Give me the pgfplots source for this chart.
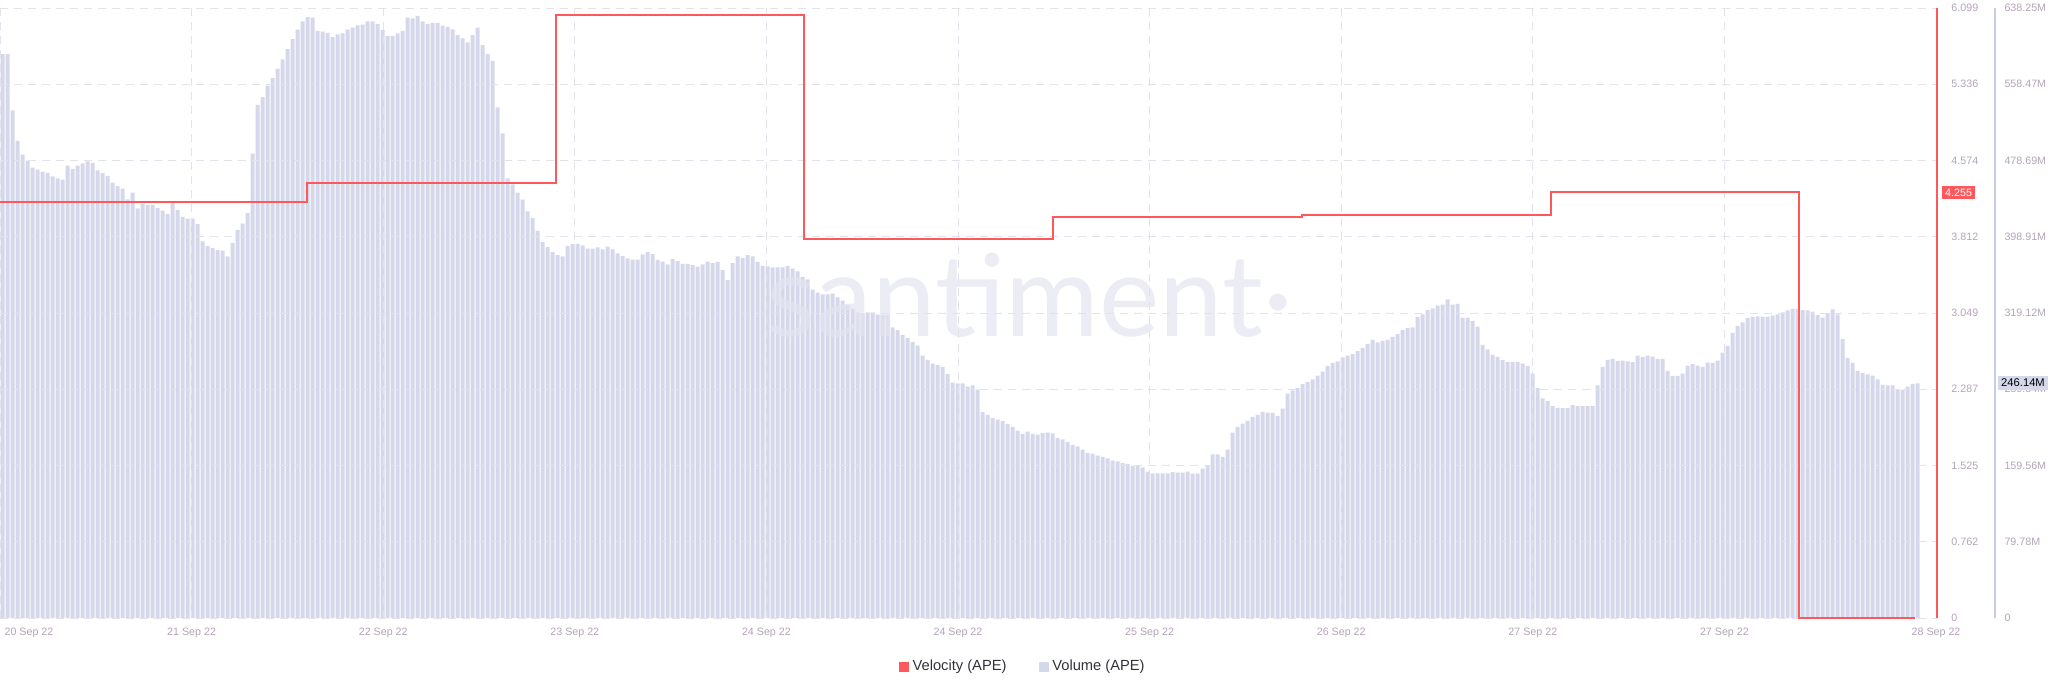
\documentclass[border=0pt]{standalone}
\usepackage{pgfplots}
\pgfplotsset{compat=1.18}
\usepackage{pgfplotstable}
\usepackage{fontspec}
\setmainfont{Liberation Sans}
\newfontfamily\wmfont{Lato}
\definecolor{velred}{RGB}{255,88,92}
\definecolor{volbar}{RGB}{213,216,235}
\definecolor{volaxis}{RGB}{200,205,228}
\definecolor{ticklab}{RGB}{180,163,184}
\definecolor{gridc}{RGB}{226,226,236}
\definecolor{wmc}{RGB}{226,228,240}
\definecolor{legtext}{RGB}{50,50,60}

\pgfplotstableread[row sep=\\]{
v\\
590.0\\ 590.0\\ 531.0\\ 499.2\\ 484.8\\ 478.6\\ 471.2\\ 469.1\\ 467.0\\ 465.8\\
462.1\\ 460.0\\ 458.8\\ 473.2\\ 469.9\\ 473.2\\ 475.7\\ 477.8\\ 476.1\\ 468.3\\
465.4\\ 462.5\\ 455.5\\ 451.8\\ 449.3\\ 438.1\\ 445.2\\ 428.7\\ 433.6\\ 432.0\\
432.0\\ 429.1\\ 426.2\\ 422.9\\ 434.4\\ 427.0\\ 419.6\\ 417.9\\ 417.9\\ 412.2\\
394.0\\ 389.1\\ 387.0\\ 384.9\\ 384.5\\ 378.3\\ 392.4\\ 406.0\\ 412.6\\ 423.7\\
486.0\\ 536.8\\ 545.0\\ 557.0\\ 564.8\\ 574.7\\
584.6\\ 595.3\\ 605.6\\ 615.6\\ 624.2\\ 628.8\\ 628.3\\ 614.3\\ 613.5\\ 612.3\\
607.7\\ 610.6\\ 611.8\\ 615.6\\ 617.6\\ 620.1\\ 620.9\\ 624.2\\ 624.2\\ 621.7\\
615.1\\ 609.0\\ 609.0\\ 611.8\\ 614.3\\ 628.3\\ 627.5\\ 630.0\\ 624.2\\ 621.7\\
622.6\\ 622.6\\ 619.7\\ 618.4\\ 616.0\\ 610.2\\ 606.5\\ 602.4\\ 609.8\\ 617.6\\
599.5\\ 590.0\\ 583.0\\ 534.3\\ 507.0\\ 460.0\\ 453.8\\ 445.2\\ 437.7\\ 425.4\\
418.4\\ 405.1\\ 393.2\\ 388.2\\ 382.9\\ 379.6\\
378.3\\ 389.1\\ 391.1\\ 391.5\\ 389.9\\ 386.6\\ 386.6\\ 387.8\\ 385.8\\ 388.6\\
385.8\\ 381.6\\ 378.7\\ 376.3\\ 375.0\\ 375.0\\ 380.4\\ 382.9\\ 380.8\\ 374.6\\
373.0\\ 370.1\\ 375.4\\ 373.4\\ 370.5\\ 370.5\\ 369.3\\ 367.6\\ 370.1\\ 373.0\\
371.3\\ 372.6\\ 363.9\\ 353.6\\ 371.3\\ 378.3\\ 376.7\\ 379.6\\ 378.3\\ 372.6\\
368.4\\ 368.0\\ 366.8\\ 366.8\\ 366.8\\ 368.4\\ 365.5\\ 362.6\\ 356.9\\ 354.4\\
343.7\\ 340.4\\ 338.7\\ 338.7\\ 339.5\\ 335.4\\
332.1\\ 328.0\\ 323.9\\ 319.7\\ 318.9\\ 319.7\\ 319.7\\ 317.3\\ 316.9\\ 316.9\\
304.1\\ 301.2\\ 296.2\\ 292.9\\ 288.8\\ 285.1\\ 274.4\\ 270.2\\ 266.1\\ 264.5\\
262.8\\ 255.4\\ 246.3\\ 245.5\\ 245.5\\ 242.2\\ 243.4\\ 238.9\\ 215.4\\ 212.5\\
209.2\\ 207.5\\ 205.9\\ 203.0\\ 200.1\\ 196.0\\ 192.7\\ 195.1\\ 192.7\\ 191.8\\
193.5\\ 193.9\\ 193.1\\ 188.5\\ 186.9\\ 184.4\\ 181.1\\ 179.5\\ 176.2\\ 172.9\\
172.0\\ 170.0\\ 168.7\\ 167.1\\ 164.6\\ 163.8\\
162.1\\ 161.3\\ 159.3\\ 159.3\\ 157.6\\ 153.1\\ 151.4\\ 151.4\\ 151.4\\ 151.4\\
152.7\\ 152.2\\ 152.2\\ 153.1\\ 151.0\\ 151.0\\ 156.4\\ 158.8\\ 171.2\\ 171.2\\
168.7\\ 176.2\\ 193.9\\ 200.1\\ 203.4\\ 206.3\\ 210.4\\ 212.5\\ 215.8\\ 215.0\\
214.5\\ 211.6\\ 219.1\\ 234.8\\ 238.1\\ 240.5\\ 244.7\\ 247.1\\ 249.6\\ 253.7\\
257.9\\ 263.6\\ 266.9\\ 268.6\\ 272.7\\ 274.4\\ 276.0\\ 279.3\\ 282.6\\ 286.7\\
290.9\\ 288.4\\ 290.0\\ 290.9\\ 294.2\\ 297.1\\
301.2\\ 303.2\\ 304.1\\ 314.8\\ 317.7\\ 322.2\\ 323.9\\ 326.8\\ 328.0\\ 333.4\\
328.0\\ 328.8\\ 314.4\\ 314.4\\ 310.7\\ 304.9\\ 285.9\\ 281.0\\ 275.2\\ 273.1\\
270.2\\ 267.8\\ 267.8\\ 267.8\\ 266.1\\ 263.6\\ 255.8\\ 240.5\\ 229.8\\ 226.9\\
221.6\\ 219.9\\ 219.5\\ 219.9\\ 222.8\\ 221.6\\ 221.6\\ 221.6\\ 221.6\\ 243.4\\
262.8\\ 270.2\\ 271.1\\ 269.0\\ 269.4\\ 268.6\\ 267.8\\ 274.4\\ 273.1\\ 274.4\\
273.5\\ 271.1\\ 271.1\\ 258.7\\ 253.3\\ 253.3\\
255.8\\ 264.0\\ 265.7\\ 264.0\\ 262.8\\ 267.3\\ 266.9\\ 269.4\\ 277.7\\ 284.7\\
298.3\\ 305.7\\ 309.4\\ 314.0\\ 314.8\\ 315.6\\ 315.2\\ 315.2\\ 316.4\\ 317.7\\
319.7\\ 321.8\\ 323.5\\ 323.5\\ 322.2\\ 321.8\\ 320.6\\ 316.9\\ 314.4\\ 318.9\\
323.0\\ 317.7\\ 291.7\\ 272.3\\ 266.9\\ 258.7\\ 256.6\\ 255.0\\ 253.7\\ 249.6\\
243.8\\ 243.4\\ 243.4\\ 239.3\\ 238.9\\ 242.2\\ 245.1\\ 245.5\\
}\voltable

\begin{document}
\begin{tikzpicture}
\useasboundingbox (0pt,-37.5pt) rectangle (1024pt,309pt);
% Volume axis
\begin{axis}[
  scale only axis, width=997.5pt, height=305pt,
  at={(0pt,0pt)}, anchor=south west,
  xmin=-0.5, xmax=398.5, ymin=0, ymax=638.25,
  axis x line=none, axis y line*=right,
  y axis line style={volaxis, line width=0.75pt},
  xtick=\empty,
  ytick={0,79.78125,159.5625,239.34375,319.125,398.90625,478.6875,558.46875,638.25},
  yticklabels={0,79.78M,159.56M,239.34M,319.12M,398.91M,478.69M,558.47M,638.25M},
  major tick length=0pt, tick style={draw=none},
  yticklabel style={font=\fontsize{5.35}{6}\selectfont, text=ticklab, anchor=west, xshift=1.2pt},
  ybar, bar width=2pt,
]
\addplot[fill=volbar, draw=none, bar shift=0pt] table[x expr=\coordindex, y=v] {\voltable};
\end{axis}
% watermark
\node[anchor=base west, inner sep=0pt, font=\wmfont\fontsize{57}{57}\selectfont, text=wmc, opacity=0.7] at (383pt,141pt) {santiment·};
% Velocity axis
\begin{axis}[
  scale only axis, width=968.5pt, height=305pt,
  at={(0pt,0pt)}, anchor=south west,
  xmin=-0.5, xmax=386.9, ymin=0, ymax=6.099,
  clip=false,
  axis x line*=bottom, axis y line*=right,
  x axis line style={draw=none},
  y axis line style={velred, line width=0.75pt},
  major tick length=0pt, tick style={draw=none},
  xtick={-0.5,37.82,76.14,114.46,152.78,191.1,229.42,267.74,306.06,344.38},
  xticklabels={,21 Sep 22,22 Sep 22,23 Sep 22,24 Sep 22,24 Sep 22,25 Sep 22,26 Sep 22,27 Sep 22,27 Sep 22},
  extra x ticks={5.3,386.7},
  extra x tick labels={20 Sep 22,28 Sep 22},
  extra x tick style={grid=none},
  ytick={0,0.762375,1.52475,2.287125,3.0495,3.811875,4.57425,5.336625,6.099},
  yticklabels={0,0.762,1.525,2.287,3.049,3.812,4.574,5.336,6.099},
  grid=major,
  major grid style={gridc, dash pattern=on 4pt off 3pt, line width=0.5pt},
  xticklabel style={font=\fontsize{5.35}{6}\selectfont, text=ticklab, yshift=-1.5pt},
  yticklabel style={font=\fontsize{5.35}{6}\selectfont, text=ticklab, anchor=west, xshift=3.7pt},
  legend style={at={(0.5285,-0.08)}, anchor=center, draw=none, fill=none,
    legend columns=2, font=\fontsize{7.35}{9}\selectfont, text=legtext,
    /tikz/every even column/.append style={column sep=14pt}},
]
\addplot[velred, line width=1pt, const plot, forget plot] coordinates {
  (-0.5,4.155) (60.8,4.345) (110.7,6.032) (160.3,3.785) (210.0,4.010)
  (259.8,4.033) (309.6,4.255) (359.3,0) (382.5,0)};
\addlegendimage{legend image code/.code={\fill[velred] (0pt,-2.25pt) rectangle (4.5pt,2.25pt);}}
\addlegendentry{Velocity (APE)}
\addlegendimage{legend image code/.code={\fill[volbar] (0pt,-2.25pt) rectangle (4.5pt,2.25pt);}}
\addlegendentry{Volume (APE)}
\end{axis}
% current value labels
\node[anchor=west, fill=velred, text=white, inner sep=1.4pt, font=\fontsize{5.35}{6}\selectfont] at (971pt,212.8pt) {4.255};
\node[anchor=west, fill=volbar, text=black, inner sep=1.4pt, font=\fontsize{5.6}{6}\selectfont] at (999pt,117.6pt) {246.14M};
\end{tikzpicture}
\end{document}
